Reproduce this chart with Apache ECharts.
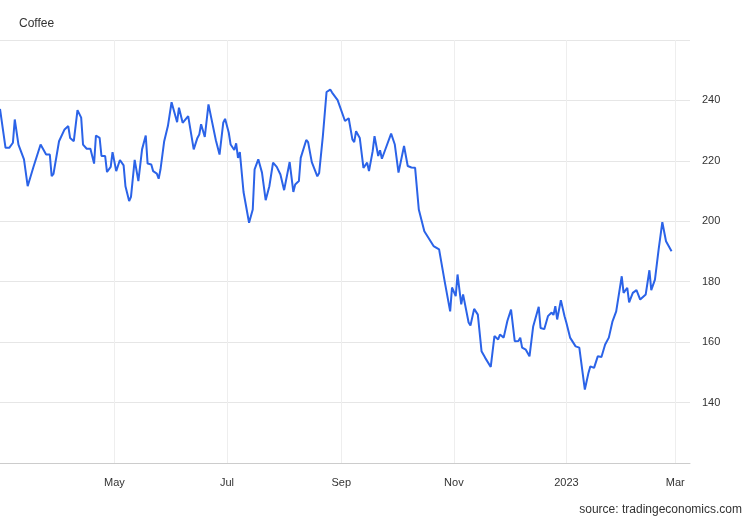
<!DOCTYPE html>
<html>
<head>
<meta charset="utf-8">
<script src="https://cdn.jsdelivr.net/npm/echarts@6/dist/echarts.min.js"></script>
<style>html,body{margin:0;padding:0;background:#fff}#chart{width:750px;height:520px}</style>
</head>
<body>
<div id="chart"></div>
<script>
// days counted from 2022-05-01
var days = [-62,-59,-57,-55,-54,-52,-49,-47,-46,-44,-40,-39,-37,-35,-34,-33,-30,-27,-25,-24,-22,-20,-18,-17,-15,-13,-11,-10,-8,-7,-5,-4,-2,-1,
  1,3,5,6,8,9,11,13,15,17,18,20,21,23,24,25,27,29,31,32,34,35,37,38,40,43,45,46,47,49,51,55,56,57,59,60,
  62,63,65,66,67,68,70,71,73,75,76,78,80,82,84,86,88,90,92,95,97,98,100,101,104,105,107,110,111,113,115,117,118,
  121,122,125,127,129,130,131,133,135,137,138,140,141,143,144,145,147,148,150,152,154,157,159,161,163,165,168,173,176,179,
  182,183,185,186,188,189,192,193,195,197,199,201,204,206,208,209,211,213,214,215,217,219,220,221,223,225,227,230,231,233,235,237,238,239,240,242,244,
  245,247,250,252,255,257,258,260,262,264,266,268,270,272,273,275,276,278,279,281,283,285,288,290,291,293,295,297,299,302];
var prices = [237.2,224.3,224.3,226,233.7,225.4,220.5,211.6,211.6,217.7,225.4,225.4,222.1,222.1,214.9,215.7,226.5,230.4,231.5,227.6,226.5,236.8,234.3,225.4,224,224,219.1,228.4,227.6,221.6,221.6,216.3,218,222.9,
  216.6,220.3,218.5,211.6,206.7,208.1,220.3,213.3,223.8,228.4,219.1,218.8,216.6,215.8,214.1,217.2,226.5,231.5,239.4,238.9,232.8,237.6,232.6,232.6,234.8,223.8,227.6,228.7,232.1,227.9,238.7,226.8,226.2,222.1,232.6,233.9,
  229.3,225.4,223.6,225.8,221,222.9,209.7,209.7,199.5,203.9,217.2,220.5,216.1,207,211.6,219.4,218,215.5,210.3,219.6,209.7,212.2,213.3,221,226.9,226.2,219.6,214.9,216,228.2,242.8,243.6,242.6,
  240.1,240.1,233.2,234.1,227.1,226.2,229.8,227.6,217.7,219.4,216.6,223.2,228.2,221.6,223.5,220.7,224,224.3,229,225.4,216.1,224.9,218.3,217.8,217.7,203.9,196.7,191.8,190.7,180.2,
  170.2,178.1,175.2,182.4,172.5,175.8,166.5,165.5,171,169.1,157,154.8,151.8,162,160.9,162.5,161.5,167,167.6,170.8,160.3,160.4,161.5,158.2,157.5,155.3,165.2,171.7,164.7,164.3,168.6,169.8,169,171.9,167.5,173.9,168.6,
  166.4,161.5,158.6,158.2,144.3,149.9,152,151.5,155.3,155.1,159.2,161.5,166.9,170.2,170.8,181.8,176.3,178,173.2,176.3,177.2,174.1,175.8,183.8,177.2,180.7,190.7,199.7,193.4,190.1];
var tickDays = [0, 61, 123, 184, 245, 304];
var tickNames = ['May','Jul','Sep','Nov','2023','Mar'];

var data = days.map(function (d, i) { return [d, prices[i]]; });

var chart = echarts.init(document.getElementById('chart'));
chart.setOption({
  animation: false,
  textStyle: {fontFamily: 'Arial, Liberation Sans, sans-serif'},
  title: {
    text: 'Coffee', left: 14, top: 13,
    textStyle: {fontSize: 12, fontWeight: 'normal', color: '#333'}
  },
  graphic: [{
    type: 'text', right: 8, bottom: 4,
    style: {text: 'source: tradingeconomics.com', fontSize: 12, fill: '#333', fontFamily: 'Arial, Liberation Sans, sans-serif'}
  }],
  grid: {left: 0, right: 60, top: 40, bottom: 57},
  xAxis: {
    type: 'value',
    min: -62, max: 312,
    axisLine: {show: true, lineStyle: {color: '#ccc'}},
    axisTick: {show: false, customValues: tickDays},
    axisLabel: {
      customValues: tickDays, color: '#333', fontSize: 11, margin: 14,
      formatter: function (v) { return tickNames[tickDays.indexOf(v)] || ''; }
    },
    splitLine: {show: true, lineStyle: {color: '#eee'}}
  },
  yAxis: {
    type: 'value', position: 'right',
    min: 120, max: 260, interval: 20,
    axisLine: {show: false}, axisTick: {show: false},
    axisLabel: {
      color: '#333', fontSize: 11, margin: 12,
      formatter: function (v) { return (v === 120 || v === 260) ? '' : v; }
    },
    splitLine: {lineStyle: {color: '#e6e6e6'}}
  },
  series: [{
    type: 'line', data: data, showSymbol: false,
    lineStyle: {color: '#2b63e8', width: 2},
    itemStyle: {color: '#2b63e8'}
  }]
});
</script>
</body>
</html>
